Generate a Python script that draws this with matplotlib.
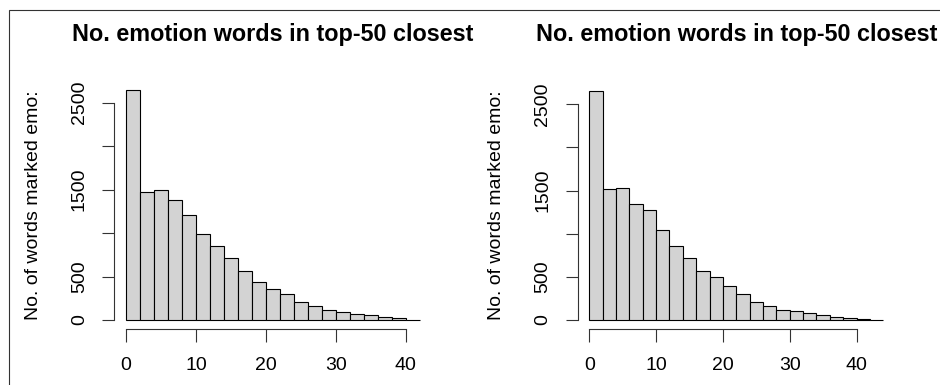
import numpy as np
import matplotlib
matplotlib.use('Agg')
import matplotlib.pyplot as plt
from matplotlib.patches import Rectangle

# histogram counts (bins of width 2 starting at 0)
left_counts = [2640, 1472, 1499, 1376, 1204, 989, 855, 713, 563, 433, 353,
               299, 207, 157, 115, 88, 73, 54, 31, 23, 5]
right_counts = [2654, 1518, 1530, 1344, 1275, 1039, 861, 722, 568, 498, 390,
                301, 212, 159, 120, 108, 78, 61, 39, 23, 8, 2]
bin_width = 2
title = "No. emotion words in top-50 closest"
ylabel = "No. of words marked emo:"
yticks = [0, 500, 1000, 1500, 2000, 2500]
ytick_labels = ['0', '500', '', '1500', '', '2500']
xticks = [0, 10, 20, 30, 40]

W, H = 940, 385
plt.rcParams['font.family'] = ['Liberation Sans', 'DejaVu Sans']

fig = plt.figure(figsize=(W / 100, H / 100), dpi=100)


def px(x, y):
    return x / W, 1 - y / H


# frame around the whole device (cropped at right/bottom)
fig.add_artist(Rectangle(px(9, 500), 1.2, (500 - 10) / H, transform=fig.transFigure,
                         fill=False, edgecolor='#333333', linewidth=0.8))


def draw_hist(counts, left, right, top, bottom):
    x0, y0 = px(left, bottom)
    x1, y1 = px(right, top)
    ax = fig.add_axes([x0, y0, x1 - x0, y1 - y0])
    counts = np.array(counts)
    edges = np.arange(len(counts) + 1) * bin_width
    ax.bar(edges[:-1], counts, width=bin_width, align='edge',
           color='#D3D3D3', edgecolor='black', linewidth=0.8)
    xr = edges[-1] - edges[0]
    ax.set_xlim(edges[0] - 0.04 * xr, edges[-1] + 0.04 * xr)
    ax.set_ylim(-0.04 * counts.max(), 1.04 * counts.max())
    ax.spines['top'].set_visible(False)
    ax.spines['right'].set_visible(False)
    ax.spines['left'].set_bounds(yticks[0], yticks[-1])
    ax.spines['bottom'].set_bounds(xticks[0], xticks[-1])
    for s in ('left', 'bottom'):
        ax.spines[s].set_linewidth(0.8)
        ax.spines[s].set_color('#333333')
    ax.set_yticks(yticks)
    ax.set_yticklabels(ytick_labels, rotation=90, va='center')
    ax.set_xticks(xticks)
    ax.tick_params(axis='both', length=9, width=0.8, color='#333333',
                   labelsize=14)
    ax.tick_params(axis='y', pad=10)
    ax.tick_params(axis='x', pad=11)
    cx = (left + right) / 2
    fig.text(*px(cx, 35), title, ha='center', va='center',
             fontsize=16.8, fontweight='bold')
    fig.text(*px(left - 81, 205), ylabel, ha='center', va='center',
             rotation=90, fontsize=14)
    return ax


draw_hist(left_counts, 114.3, 431.3, 81.3, 329.2)
draw_hist(right_counts, 577.5, 895.0, 81.8, 329.2)

fig.savefig('out.png', dpi=100)
